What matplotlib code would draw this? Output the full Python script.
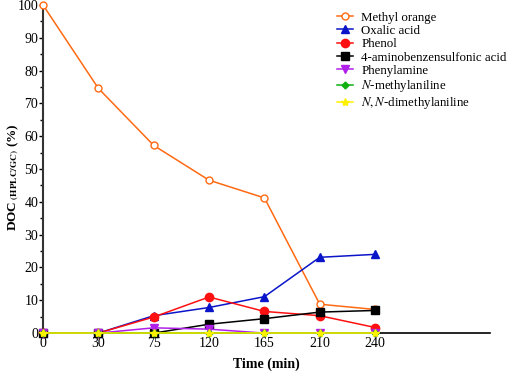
import matplotlib
matplotlib.use("Agg")
import matplotlib.pyplot as plt
import numpy as np

plt.rcParams['font.family'] = ['Liberation Serif', 'DejaVu Serif']
plt.rcParams['mathtext.fontset'] = 'stix'

times = ['0', '30', '75', '120', '165', '210', '240']
methyl_orange = [100, 74.6, 57.2, 46.6, 41.2, 8.8, 7.2]
oxalic_acid = [0, 0, 5.3, 7.8, 11.1, 23.1, 24.0]
phenol = [0, 0, 4.9, 11.0, 6.6, 5.3, 1.7]
aminobenzenesulfonic = [0, 0, 0, 2.7, 4.4, 6.4, 6.9]
phenylamine = [0, 0, 1.6, 1.2, 0, 0, 0]
n_methylaniline = [0, 0, 0, 0, 0, 0, 0]
nn_dimethylaniline = [0, 0, 0, 0, 0, 0, 0]

fig = plt.figure(figsize=(5.1, 3.73), dpi=100)
ax = fig.add_axes([0.0843, 0.107, 0.877, 0.8796])
x = np.arange(len(times))

series = [
    (methyl_orange, 'Methyl orange', '#FF6A13', 'o', 'white', 5),
    (oxalic_acid, 'Oxalic acid', '#0A14C8', '^', '#0A14C8', 5.5),
    (phenol, 'Phenol', '#FF1010', 'o', '#FF1010', 6),
    (aminobenzenesulfonic, '4-aminobenzensulfonic acid', 'black', 's', 'black', 5.5),
    (phenylamine, 'Phenylamine', '#B020E8', 'v', '#B020E8', 5.5),
    (n_methylaniline, r'$\it{N}$-methylaniline', '#10B010', 'D', '#10B010', 3.5),
    (nn_dimethylaniline, r'$\it{N,N}$-dimethylaniline', '#FFF000', '*', '#FFF000', 6),
]
order = [6, 5, 4, 3, 1, 2, 0]
handles = {}
for i in order:
    vals, label, c, m, fc, ms = series[i]
    h, = ax.plot(x, vals, color=c, marker=m, markerfacecolor=fc, markeredgecolor=c,
                 markersize=ms, linewidth=1.1, label=label, clip_on=False, zorder=3 + i * 0.1)
    handles[i] = h

ax.set_xlim(0, 8.08)
ax.set_ylim(0, 100)
ax.set_xticks(x)
ax.set_xticklabels(times)
ax.set_yticks(np.arange(0, 101, 10))
ax.set_yticks(np.arange(0, 101, 5), minor=True)
ax.tick_params(axis='x', length=0, labelsize=10, pad=3)
ax.tick_params(axis='y', which='major', length=3, width=1, labelsize=10, pad=0.5)
ax.tick_params(axis='y', which='minor', length=2, width=1)
for s in ['top', 'right']:
    ax.spines[s].set_visible(False)
ax.spines['left'].set_linewidth(1.5)
ax.spines['left'].set_color('#333333')
ax.spines['bottom'].set_linewidth(1.2)

ax.set_xlabel('Time (min)', fontweight='bold', fontsize=10, labelpad=5)
ax.set_ylabel(r'DOC$_{\ \mathbf{(HPLC/GC)}}$ (%)', fontweight='bold', fontsize=9.5)
ax.yaxis.set_label_coords(-0.05, 0.476)

leg = ax.legend([handles[i] for i in range(7)], [series[i][1] for i in range(7)],
                loc='upper left', bbox_to_anchor=(0.645, 0.99), bbox_transform=fig.transFigure,
                frameon=False, fontsize=9.3, handlelength=1.3, handletextpad=0.6,
                labelspacing=0.1, borderpad=0.1)

fig.savefig('out.png', dpi=100)
